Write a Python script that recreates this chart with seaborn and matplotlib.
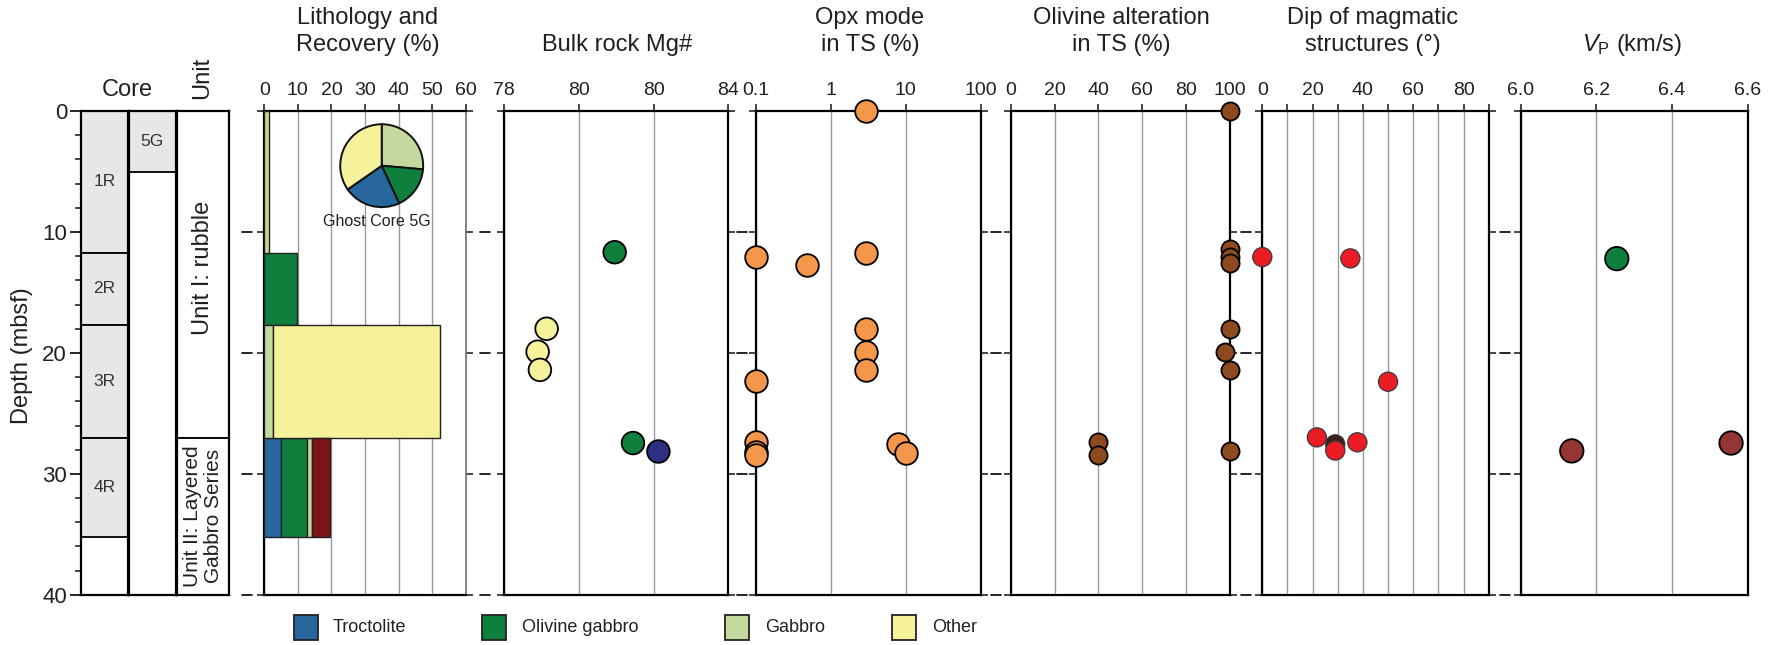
import numpy as np
import pandas as pd
import matplotlib
matplotlib.use("Agg")
import matplotlib.pyplot as plt
import seaborn as sns
from matplotlib.patches import Rectangle
from matplotlib.lines import Line2D
import matplotlib.transforms as mtransforms

# ------------------------------------------------------------------ data
core_names = ["1R", "2R", "3R", "4R"]
core_top = [0.0, 11.7, 17.7, 27.0]
core_bottom = [11.7, 17.7, 27.0, 35.2]
ghost_names = ["5G"]
ghost_top = [0.0]
ghost_bottom = [5.0]
unit_names = ["Unit I: rubble", "Unit II: Layered\nGabbro Series"]
unit_top = [0.0, 27.0]
unit_bottom = [27.0, 40.0]

lith_names = ["Troctolite", "Olivine gabbro", "Gabbro", "Other", "Unassigned"]
lith_colors = ["#27679e", "#0f7f3e", "#c5d89d", "#f6f29b", "#7e1518"]
interval_top = [0.0, 11.7, 17.7, 27.0]
interval_bottom = [11.7, 17.7, 27.0, 35.2]
troctolite_pct = [0.0, 0.0, 0.0, 5.0]
ol_gabbro_pct = [0.0, 9.6, 0.0, 7.6]
gabbro_pct = [1.4, 0.0, 2.5, 1.5]
other_pct = [0.0, 0.0, 49.9, 0.0]
unassigned_pct = [0.0, 0.0, 0.0, 5.6]

ghost_pie_names = ["Gabbro", "Olivine gabbro", "Troctolite", "Other"]
ghost_pie_values = [26.4, 16.7, 22.2, 34.7]

mg_depth = [11.67, 18.0, 19.9, 21.4, 27.45, 28.15]
mg_value = [80.96, 79.14, 78.90, 78.96, 81.45, 82.13]
mg_type = ["Olivine gabbro", "Other", "Other", "Other", "Olivine gabbro", "Troctolite"]

opx_depth = [0.0, 11.7, 12.1, 12.7, 18.0, 19.9, 21.4, 22.3, 27.4, 28.2, 28.45, 27.5, 28.3]
opx_value = [3.0, 3.0, 0.1, 0.49, 3.0, 3.0, 3.0, 0.1, 0.1, 0.1, 0.1, 7.9, 10.0]

ol_depth = [0.0, 11.4, 12.07, 12.59, 18.0, 19.9, 21.4, 27.39, 28.4, 28.14]
ol_value = [100, 100, 100, 100, 100, 98, 100, 40, 40, 100]

dip_depth = [12.07, 12.18, 22.38, 26.98, 27.56, 28.07, 27.39]
dip_value = [0, 35, 50, 21.7, 29, 29, 37.8]
dip_type = ["a", "a", "a", "a", "b", "a", "a"]

vp_depth = [12.2, 28.1, 27.45]
vp_value = [6.254, 6.135, 6.556]
vp_type = ["Olivine gabbro", "Unassigned", "Unassigned"]

# ------------------------------------------------------------------ style
sns.set_style("white")
plt.rcParams["font.family"] = ["Liberation Sans", "DejaVu Sans"]
plt.rcParams["mathtext.fontset"] = "custom"
plt.rcParams["mathtext.rm"] = "Liberation Sans"
plt.rcParams["mathtext.it"] = "Liberation Sans:italic"
TXT = "#231f20"
GRID = "#9a9a9a"

W, H = 1784, 645
TOP, BOT = 111.1, 594.8
fig = plt.figure(figsize=(W / 100, H / 100), dpi=100)


def add_ax(x0, x1):
    return fig.add_axes([x0 / W, 1 - BOT / H, (x1 - x0) / W, (BOT - TOP) / H])


def ftext(x, y, s, **kw):
    kw.setdefault("color", TXT)
    kw.setdefault("ha", "center")
    kw.setdefault("va", "center")
    fig.text(x / W, 1 - y / H, s, **kw)


# ------------------------------------------------------------------ core columns
col_bounds = [(81, 127.7), (128.7, 175.7), (176.7, 229.3)]
ax_core, ax_ghost, ax_unit = [add_ax(a, b) for a, b in col_bounds]

for ax, names, tops, bots, fc in [
    (ax_core, core_names, core_top, core_bottom, "#e6e7e8"),
    (ax_ghost, ghost_names, ghost_top, ghost_bottom, "#e6e7e8"),
]:
    t, b = np.array(tops), np.array(bots)
    ax.barh((t + b) / 2, 1.0, height=b - t, left=0, color=fc,
            edgecolor="black", linewidth=1.3, zorder=2)
    for n, tt, bb in zip(names, t, b):
        ax.text(0.5, (tt + bb) / 2, n, ha="center", va="center", fontsize=12.5, color="#333333")

t, b = np.array(unit_top), np.array(unit_bottom)
ax_unit.barh((t + b) / 2, 1.0, height=b - t, left=0, color="white",
             edgecolor="black", linewidth=1.3, zorder=2)
ax_unit.text(0.5, 13.0, unit_names[0], rotation=90, ha="center", va="center",
             fontsize=17, color=TXT)
ax_unit.text(0.5, 33.5, unit_names[1], rotation=90, ha="center", va="center",
             fontsize=15, color=TXT, linespacing=1.15)

for ax in (ax_core, ax_ghost, ax_unit):
    ax.set_xlim(0, 1)
    ax.set_ylim(40, 0)
    ax.set_xticks([])
    for s in ax.spines.values():
        s.set_linewidth(1.6)
        s.set_color("black")
    ax.set_yticks([])

ax_core.set_yticks([0, 10, 20, 30, 40])
ax_core.set_yticks(np.arange(0, 41, 2), minor=True)
ax_core.tick_params(axis="y", which="major", left=True, length=8, width=1.4,
                    labelsize=16, labelcolor=TXT, pad=2)
ax_core.tick_params(axis="y", which="minor", left=True, length=4, width=1.2)

ftext(22, 356, "Depth (mbsf)", rotation=90, fontsize=17)
ftext(127, 89.7, "Core", fontsize=17)
ftext(202, 78, "Unit", rotation=90, fontsize=17)

# ------------------------------------------------------------------ data panels
panels = {
    "lith": (264.3, 465.7),
    "mg": (504, 728.3),
    "opx": (755.7, 980.7),
    "ol": (1010.7, 1229.7),
    "dip": (1262.3, 1488.7),
    "vp": (1520.7, 1747.7),
}
axes = {k: add_ax(*v) for k, v in panels.items()}


def style_panel(ax, xlim, ticks, labels, log=False):
    if log:
        ax.set_xscale("log")
    ax.set_xlim(*xlim)
    ax.set_ylim(40, 0)
    ax.set_xticks(ticks)
    ax.set_xticklabels(labels)
    ax.xaxis.set_minor_locator(matplotlib.ticker.NullLocator())
    ax.xaxis.set_ticks_position("top")
    ax.tick_params(axis="x", which="major", top=True, bottom=False, length=5,
                   width=1.2, labelsize=14, labelcolor=TXT, pad=4, direction="out")
    ax.set_yticks([0, 10, 20, 30, 40])
    ax.set_yticklabels([])
    ax.tick_params(axis="y", which="major", left=True, right=True, length=5,
                   width=1.2, direction="out")
    ax.grid(axis="x", color=GRID, linewidth=1.0)
    ax.grid(axis="y", visible=False)
    for s in ax.spines.values():
        s.set_linewidth(1.6)
        s.set_color("black")
    ax.set_xlabel("")
    ax.set_ylabel("")


# lithology bars
ax = axes["lith"]
it, ib = np.array(interval_top), np.array(interval_bottom)
left = np.zeros(len(it))
for name, color, pct in zip(lith_names, lith_colors,
                            [troctolite_pct, ol_gabbro_pct, gabbro_pct, other_pct, unassigned_pct]):
    pct = np.array(pct)
    m = pct > 0
    ax.barh(((it + ib) / 2)[m], pct[m], height=(ib - it)[m], left=left[m],
            color=color, edgecolor="#222222", linewidth=1.0, zorder=3)
    left = left + pct
style_panel(ax, (0, 60), np.arange(0, 61, 10), [str(v) for v in range(0, 61, 10)])
ax.spines["right"].set_color("#7a7a7a")
ax.spines["right"].set_linewidth(1.3)

# ghost-core pie
pie_ax = fig.add_axes([339 / W, 1 - 208.4 / H, 85.4 / W, 85.4 / H])
pie_colors = [lith_colors[lith_names.index(n)] for n in ghost_pie_names]
pie_ax.pie(ghost_pie_values, colors=pie_colors, startangle=90, counterclock=False,
           wedgeprops=dict(edgecolor="#111111", linewidth=1.4))
pie_ax.set_xlim(-1.03, 1.03)
pie_ax.set_ylim(-1.03, 1.03)
pie_ax.set_aspect("equal")
ftext(376.7, 221.7, "Ghost Core 5G", fontsize=11.5)

MK = dict(edgecolor="black", linewidth=1.3, legend=False, clip_on=False, zorder=5)

# bulk rock Mg#
ax = axes["mg"]
df = pd.DataFrame({"depth": mg_depth, "value": mg_value, "type": mg_type})
sns.scatterplot(data=df, x="value", y="depth", hue="type", ax=ax, s=265,
                palette={"Olivine gabbro": "#0f7f3e", "Other": "#f6f29b",
                         "Troctolite": "#2e3083"}, **MK)
style_panel(ax, (78, 84), [78, 80, 82, 84], ["78", "80", "80", "84"])

# opx mode
ax = axes["opx"]
df = pd.DataFrame({"depth": opx_depth, "value": opx_value})
sns.scatterplot(data=df, x="value", y="depth", ax=ax, s=265, color="#f5974b", **MK)
style_panel(ax, (0.1, 100), [0.1, 1, 10, 100], ["0.1", "1", "10", "100"], log=True)

# olivine alteration
ax = axes["ol"]
df = pd.DataFrame({"depth": ol_depth, "value": ol_value})
sns.scatterplot(data=df, x="value", y="depth", ax=ax, s=170, color="#8d4a1f", **MK)
style_panel(ax, (0, 100), np.arange(0, 101, 20), [str(v) for v in range(0, 101, 20)])

# dip
ax = axes["dip"]
df = pd.DataFrame({"depth": dip_depth, "value": dip_value, "type": dip_type})
sns.scatterplot(data=df, x="value", y="depth", hue="type", ax=ax, s=190,
                palette={"a": "#ec1c24", "b": "#3d1c1c"}, edgecolor="#3a3a3a",
                linewidth=0.9, legend=False, clip_on=False, zorder=5)
style_panel(ax, (0, 90), np.arange(0, 91, 10),
            ["0", "", "20", "", "40", "", "60", "", "80", ""])

# Vp
ax = axes["vp"]
df = pd.DataFrame({"depth": vp_depth, "value": vp_value, "type": vp_type})
sns.scatterplot(data=df, x="value", y="depth", hue="type", ax=ax, s=285,
                palette={"Olivine gabbro": "#0f7f3e", "Unassigned": "#943634"}, **MK)
style_panel(ax, (6.0, 6.6), [6.0, 6.2, 6.4, 6.6], ["6.0", "6.2", "6.4", "6.6"])
ax.tick_params(axis="y", right=False)

# ------------------------------------------------------------------ titles
ftext(368, 31.5, "Lithology and\nRecovery (%)", fontsize=17, linespacing=1.25)
ftext(617, 45.2, "Bulk rock Mg#", fontsize=17)
ftext(870, 31.5, "Opx mode\nin TS (%)", fontsize=17, linespacing=1.25)
ftext(1121.7, 31.5, "Olivine alteration\nin TS (%)", fontsize=17, linespacing=1.25)
ftext(1373, 31.5, "Dip of magmatic\nstructures (°)", fontsize=17, linespacing=1.25)
ftext(1631.7, 45.2, r"$\mathit{V}_\mathrm{P}$ (km/s)", fontsize=17)

# ------------------------------------------------------------------ gap dashes
edges = [col_bounds[2]] + list(panels.values())
for (a0, a1), (b0, b1) in zip(edges[:-1], edges[1:]):
    mid = (a1 + b0) / 2
    tr = mtransforms.blended_transform_factory(fig.transFigure, axes["lith"].transData)
    for d in [10, 20, 30, 40]:
        fig.add_artist(Line2D([(mid - 5) / W, (mid + 5) / W], [d, d], transform=tr,
                              color="black", linewidth=1.2))

# ------------------------------------------------------------------ legend
leg_patch_x = [293.5, 482, 725, 892]
leg_text_x = [333, 522, 765, 932]
for name, px, tx in zip(lith_names[:4], leg_patch_x, leg_text_x):
    color = lith_colors[lith_names.index(name)]
    fig.add_artist(Rectangle((px / W, 1 - 640 / H), 24 / W, 25 / H, transform=fig.transFigure,
                             facecolor=color, edgecolor="#222222", linewidth=1.3))
    ftext(tx, 627, name, fontsize=13, ha="left")

fig.savefig("out.png", dpi=100)
